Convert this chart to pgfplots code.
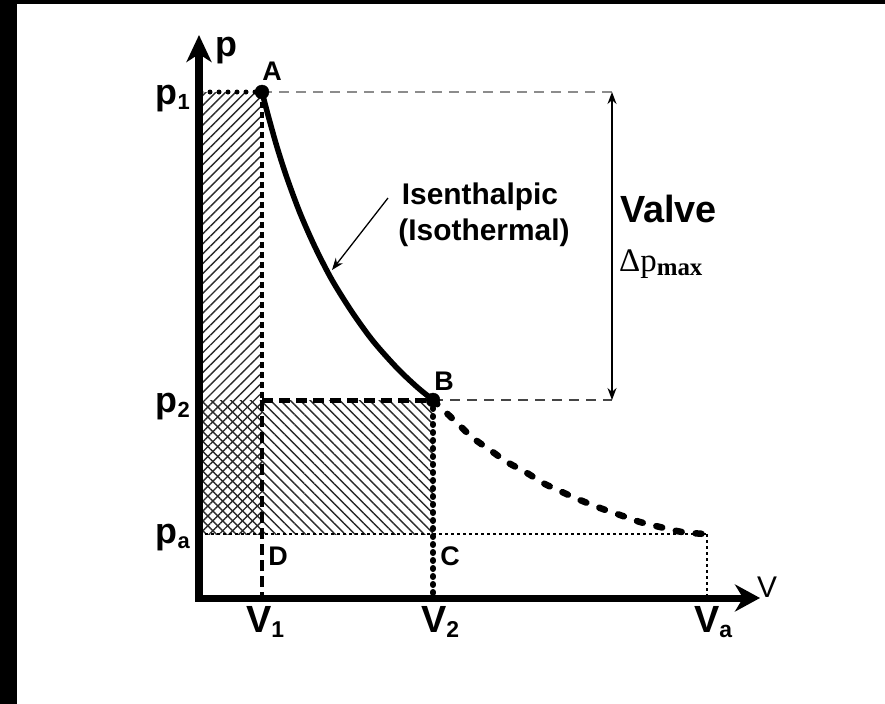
\documentclass[border=0pt]{standalone}
\usepackage{fontspec}
\setmainfont{Liberation Sans}
\newfontfamily\serifont{Liberation Serif}
\usepackage{pgfplots}
\pgfplotsset{compat=1.18}
\usetikzlibrary{arrows.meta,patterns.meta}

% label with a lowered subscript, sizes in bp (1bp = 1px of the reference)
\newcommand{\plbl}[2]{{\fontsize{36}{36}\selectfont\bfseries #1\raisebox{-5bp}{\fontsize{22}{22}\selectfont #2}}}
\newcommand{\vlbl}[2]{{\fontsize{38}{38}\selectfont\bfseries #1\raisebox{-5bp}{\fontsize{23}{23}\selectfont #2}}}

\definecolor{hatch}{HTML}{2A2A2A}
\definecolor{guidelt}{HTML}{8C8C8C}
\definecolor{guidedk}{HTML}{454545}

\begin{document}
\begin{tikzpicture}
  % page frame: reference is 885x704 px, axis origin at pixel (199,598)
  \path[use as bounding box] (-199bp,-106bp) rectangle (686bp,598bp);
  \fill[black] (-199bp,-106bp) rectangle (-182bp,598bp);
  \fill[black] (-199bp,594bp) rectangle (686bp,598bp);

  \begin{axis}[
      x=1bp, y=1bp,
      xmin=0, xmax=561, ymin=0, ymax=563,
      axis lines=left, axis on top, clip=false,
      axis line style={line width=7bp, line cap=rect},
      x axis line style={-{Stealth[length=25bp,width=27bp,inset=8bp]}},
      y axis line style={-{Stealth[length=27bp,width=25bp,inset=8bp]}},
      xtick=\empty, ytick=\empty,
    ]
    % hatched work areas
    \addplot[draw=none, pattern={Lines[angle=45,distance=7bp,line width=1.4bp]}, pattern color=hatch]
      coordinates {(0,64) (63,64) (63,506) (0,506)};
    \addplot[draw=none, pattern={Lines[angle=-45,distance=7bp,line width=1.4bp]}, pattern color=hatch]
      coordinates {(0,64) (234,64) (234,198) (0,198)};

    % guide lines
    \addplot[line width=5bp, line cap=round, dash pattern=on 0bp off 9bp] coordinates {(2,506) (63,506)};
    \addplot[line width=4.5bp, dash pattern=on 6bp off 4bp] coordinates {(63,506) (63,198)};
    \addplot[line width=4.5bp, dash pattern=on 11bp off 5bp] coordinates {(63,198) (63,0)};
    \addplot[line width=5bp, dash pattern=on 11bp off 6bp] coordinates {(63,198) (234,198)};
    \addplot[line width=6bp, line cap=round, dash pattern=on 1bp off 7bp] coordinates {(234,198) (234,0)};
    \addplot[line width=1.4bp, dash pattern=on 3bp off 3bp] coordinates {(0,64) (508,64)};
    \addplot[line width=1.4bp, dash pattern=on 3bp off 3bp] coordinates {(508,64) (508,0)};
    \addplot[guidelt, line width=1.6bp, dash pattern=on 10bp off 7bp] coordinates {(63,506) (413,506)};
    \addplot[guidedk, line width=1.6bp, dash pattern=on 10bp off 7bp] coordinates {(234,198) (413,198)};

    % isothermal expansion A -> B
    \addplot[smooth, line width=5.5bp] coordinates {
      (63,506) (69,483) (78,451) (88,420) (101,385) (116,351) (133,318)
      (153,286) (174,257) (198,230) (218,211) (234,198)};
    % continuation B -> atmospheric
    \addplot[smooth, line width=6.5bp, line cap=round, dash pattern=on 6bp off 14bp] coordinates {
      (234,198) (258,175) (274,160) (291,148) (308,136) (328,125) (344,115)
      (363,106) (381,98) (401,90) (421,83) (441,76) (461,71) (483,66) (506,64)};

    % state points
    \addplot[only marks, mark=*, mark size=7bp] coordinates {(63,506) (234,198)};

    % valve pressure drop
    \draw[line width=1.5bp, {Stealth[length=12bp,width=9bp]}-{Stealth[length=12bp,width=9bp]}]
      (axis cs:413,506) -- (axis cs:413,198);
    \draw[line width=1.3bp, -{Stealth[length=12bp,width=9bp]}]
      (axis cs:189,400) -- (axis cs:133,328);

    % texts
    \node[anchor=base west, inner sep=0, font=\fontsize{36}{36}\selectfont\bfseries] at (axis cs:16,542) {p};
    \node[anchor=base west, inner sep=0, font=\fontsize{30}{30}\selectfont] at (axis cs:558,1) {V};
    \node[anchor=base east, inner sep=0] at (axis cs:-9,494) {\plbl{p}{1}};
    \node[anchor=base east, inner sep=0] at (axis cs:-9,186) {\plbl{p}{2}};
    \node[anchor=base east, inner sep=0] at (axis cs:-9,55) {\plbl{p}{a}};
    \node[anchor=base, inner sep=0] at (axis cs:66,-34) {\vlbl{V}{1}};
    \node[anchor=base, inner sep=0] at (axis cs:241,-34) {\vlbl{V}{2}};
    \node[anchor=base, inner sep=0] at (axis cs:514,-34) {\vlbl{V}{a}};

    \node[anchor=base, inner sep=0, font=\fontsize{27}{27}\selectfont\bfseries] at (axis cs:73,518) {A};
    \node[anchor=base, inner sep=0, font=\fontsize{27}{27}\selectfont\bfseries] at (axis cs:245,208) {B};
    \node[anchor=base, inner sep=0, font=\fontsize{27}{27}\selectfont\bfseries] at (axis cs:251,33) {C};
    \node[anchor=base, inner sep=0, font=\fontsize{27}{27}\selectfont\bfseries] at (axis cs:79,33) {D};

    \node[anchor=base, inner sep=0, font=\fontsize{30}{30}\selectfont\bfseries] at (axis cs:281,394) {Isenthalpic};
    \node[anchor=base, inner sep=0, font=\fontsize{30}{30}\selectfont\bfseries] at (axis cs:285,358) {(Isothermal)};
    \node[anchor=base west, inner sep=0, font=\fontsize{38}{38}\selectfont\bfseries] at (axis cs:421,376) {Valve};
    \node[anchor=base west, inner sep=0, font=\fontsize{33}{33}\serifont] at (axis cs:420,327)
      {Δp\raisebox{-4bp}{\fontsize{25}{25}\selectfont\bfseries max}};
  \end{axis}
\end{tikzpicture}
\end{document}
